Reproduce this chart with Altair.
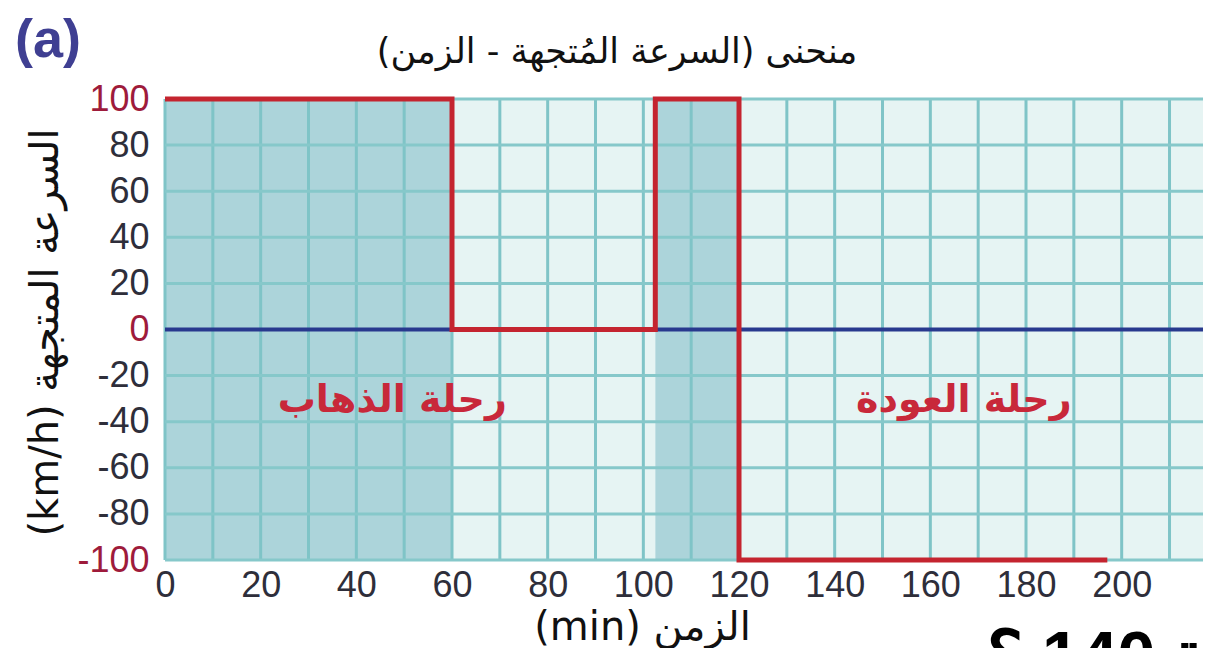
import altair as alt
import pandas as pd

# ---- data ----
# velocity-time path (min, km/h)
path_t = [0, 60, 60, 102.5, 102.5, 120, 120, 197]
path_v = [100, 100, 0, 0, 100, 100, -100, -100]

# shaded bands
band_start = [0, 60, 102.5, 120]
band_end = [60, 102.5, 120, 217]
band_kind = ["dark", "light", "dark", "light"]

x_grid = list(range(0, 220, 10))
y_grid = list(range(-100, 120, 20))
x_ticks = list(range(0, 220, 10))
y_ticks = list(range(-100, 120, 20))

note_text = ["رحلة الذهاب", "رحلة العودة"]
note_t = [47.5, 167]
note_v = [-36, -36]

title_text = "منحنى (السرعة المُتجهة - الزمن)" + "\u200f"
panel_label = "(a)"
x_title = "(min) الزمن"
y_title = "(km/h) السرعة المتجهة"
corner_text = "\u202d؟ 140 ة\u202c"

W, H = 1038, 461
XMAX = 217
LATIN = "Liberation Sans"
ARABIC = "DejaVu Sans"

xs = alt.Scale(domain=[0, XMAX], nice=False, zero=False)
ys = alt.Scale(domain=[-100, 100], nice=False, zero=False)

x_axis = alt.Axis(
    values=x_ticks, grid=False, ticks=False, domain=False,
    labelExpr="datum.value % 20 == 0 ? toString(datum.value) : ''",
    labelFont=LATIN, labelFontSize=36, labelColor="#2e2e3a",
    labelPadding=8, labelFlush=False, labelOverlap=False,
    title=x_title, titleFont=ARABIC, titleFontSize=40, titleFontWeight="normal",
    titleColor="#111111", titleX=477, titleY=79, titleAlign="center",
    titleBaseline="alphabetic", titleAnchor="start")
y_axis = alt.Axis(
    values=y_ticks, grid=False, ticks=False, domain=False,
    labelExpr="toString(datum.value)",
    labelFont=LATIN, labelFontSize=36,
    labelColor=alt.condition("datum.value == 100 || datum.value == 0 || datum.value == -100",
                             alt.value("#9e1b3b"), alt.value("#2e2e3a")),
    labelPadding=16, labelFlush=False, labelOverlap=False,
    title=y_title, titleFont=ARABIC, titleFontSize=40, titleFontWeight="normal",
    titleColor="#111111", titleX=-120, titleY=233, titleAngle=270,
    titleAlign="center", titleBaseline="middle", titleAnchor="start")

bands = pd.DataFrame({"s": band_start, "e": band_end, "k": band_kind,
                      "lo": [-100] * 4, "hi": [100] * 4})
path = pd.DataFrame({"t": path_t, "v": path_v, "o": list(range(len(path_t)))})
xg = pd.DataFrame({"x": x_grid})
yg = pd.DataFrame({"y": y_grid})
notes = pd.DataFrame({"txt": note_text, "t": note_t, "v": note_v})

rects = alt.Chart(bands).mark_rect().encode(
    x=alt.X("s:Q", scale=xs, axis=x_axis),
    x2="e:Q",
    y=alt.Y("lo:Q", scale=ys, axis=y_axis),
    y2="hi:Q",
    color=alt.Color("k:N", scale=alt.Scale(domain=["dark", "light"],
                                           range=["#acd4da", "#e6f4f3"]), legend=None),
)

vgrid = alt.Chart(xg).mark_rule(color="#7fc4c7", strokeWidth=3).encode(
    x=alt.X("x:Q", scale=xs, axis=x_axis),
    y=alt.value(0), y2=alt.value(H),
)
hgrid = alt.Chart(yg).mark_rule(color="#86c8ca", strokeWidth=3).encode(
    y=alt.Y("y:Q", scale=ys, axis=y_axis),
    x=alt.value(0), x2=alt.value(W),
)

zero_line = alt.Chart(pd.DataFrame({"y": [0]})).mark_rule(
    color="#28398e", strokeWidth=4).encode(
    y=alt.Y("y:Q", scale=ys, axis=y_axis),
    x=alt.value(0), x2=alt.value(W),
)

line = alt.Chart(path).mark_line(color="#c4242f", strokeWidth=5,
                                 strokeJoin="miter", strokeCap="butt").encode(
    x=alt.X("t:Q", scale=xs, axis=x_axis),
    y=alt.Y("v:Q", scale=ys, axis=y_axis),
    order="o:Q",
)

note_marks = alt.Chart(notes).mark_text(
    font=ARABIC, fontSize=38, fontWeight="bold", color="#c8283a",
    align="center", baseline="alphabetic").encode(
    x=alt.X("t:Q", scale=xs, axis=x_axis),
    y=alt.Y("v:Q", scale=ys, axis=y_axis),
    text="txt:N",
)

title_mark = alt.Chart(pd.DataFrame({"txt": [title_text]})).mark_text(
    font=ARABIC, fontSize=35, color="#111111", align="center",
    baseline="alphabetic").encode(
    x=alt.value(452), y=alt.value(-36), text="txt:N")

label_mark = alt.Chart(pd.DataFrame({"txt": [panel_label]})).mark_text(
    font=LATIN, fontSize=54, fontWeight="bold", color="#3f3f92", align="left",
    baseline="alphabetic").encode(
    x=alt.value(-150), y=alt.value(-42), text="txt:N")

corner_mark = alt.Chart(pd.DataFrame({"txt": [corner_text]})).mark_text(
    font=LATIN, fontSize=68, fontWeight="bold", color="#000000", align="left",
    baseline="alphabetic").encode(
    x=alt.value(822), y=alt.value(580), text="txt:N")

chart = alt.layer(
    rects, vgrid, hgrid, zero_line, line, note_marks,
    title_mark, label_mark, corner_mark,
).properties(
    width=W, height=H,
    autosize=alt.AutoSizeParams(type="none"),
    padding={"left": 157, "top": 91, "right": 0, "bottom": 88},
    background="white",
).configure_view(stroke=None)

chart.save("out.html", embed_options={"renderer": "svg", "actions": False})
